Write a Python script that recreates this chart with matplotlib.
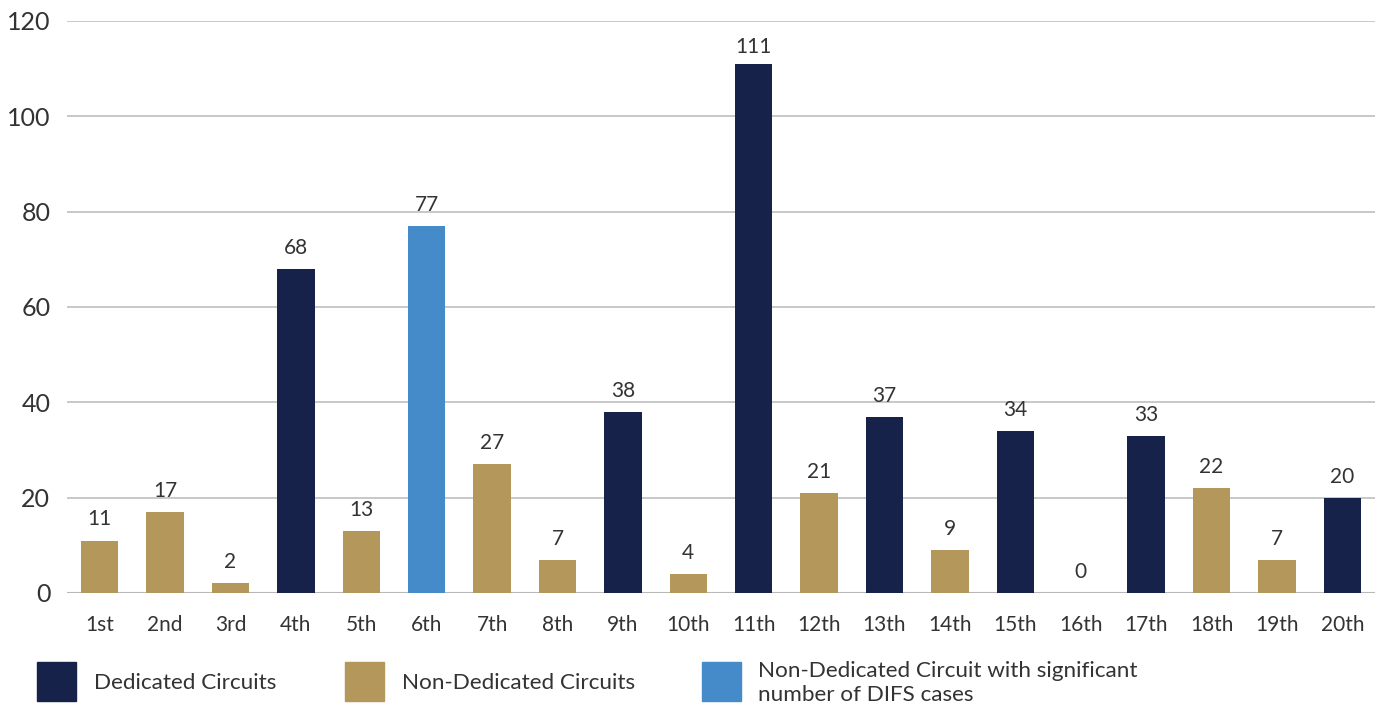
import matplotlib
matplotlib.use("Agg")
import matplotlib.pyplot as plt
from matplotlib.patches import Rectangle

plt.rcParams['font.family'] = ['Lato', 'DejaVu Sans']

categories = ['1st', '2nd', '3rd', '4th', '5th', '6th', '7th', '8th', '9th', '10th',
              '11th', '12th', '13th', '14th', '15th', '16th', '17th', '18th', '19th', '20th']
values = [11, 17, 2, 68, 13, 77, 27, 7, 38, 4, 111, 21, 37, 9, 34, 0, 33, 22, 7, 20]
types = ['N', 'N', 'N', 'D', 'N', 'S', 'N', 'N', 'D', 'N',
         'D', 'N', 'D', 'N', 'D', 'N', 'D', 'N', 'N', 'D']
legend_labels = {'D': 'Dedicated Circuits',
                 'N': 'Non-Dedicated Circuits',
                 'S': 'Non-Dedicated Circuit with significant\nnumber of DIFS cases'}
yticks = [0, 20, 40, 60, 80, 100, 120]

colors = {'D': '#16224a', 'N': '#b4975a', 'S': '#458bc9'}
text_color = '#333333'

W, H = 1381, 707
fig = plt.figure(figsize=(W / 100, H / 100), dpi=100)
ax = fig.add_axes([67 / W, 1 - 593 / H, (1375 - 67) / W, (593 - 21) / H])

x = list(range(len(categories)))
bars = ax.bar(x, values, width=0.57, color=[colors[t] for t in types], zorder=3)
for xi, v in zip(x, values):
    off = 5 if v > 105 else 8
    ax.annotate(str(v), (xi, v), xytext=(0, off), textcoords='offset points',
                ha='center', va='bottom', fontsize=15, color=text_color)

ax.set_xlim(-0.5, len(categories) - 0.5)
ax.set_ylim(0, 120)
ax.set_yticks(yticks)
ax.set_yticklabels([str(t) for t in yticks], fontsize=18, color=text_color)
ax.set_xticks(x)
ax.set_xticklabels(categories, fontsize=15, color=text_color)
ax.tick_params(axis='both', length=0)
ax.tick_params(axis='x', pad=16)
ax.tick_params(axis='y', pad=12)
for s in ax.spines.values():
    s.set_visible(False)
ax.yaxis.grid(True, color='#c4c4c4', linewidth=1.3, zorder=0)
ax.axhline(0, color='#b8b8b8', linewidth=1.5, zorder=2)

# Legend (drawn in pixel-based figure coordinates)
legend_items = [('D', 37, 94), ('N', 345, 402), ('S', 702, 758)]
for key, px, tx in legend_items:
    fig.add_artist(Rectangle((px / W, 1 - 701 / H), 39 / W, 39 / H,
                             transform=fig.transFigure, color=colors[key]))
    fig.text(tx / W, 1 - 683 / H, legend_labels[key], fontsize=16.2,
             color=text_color, va='center', ha='left', linespacing=1.2)

fig.savefig('out.png', dpi=100)
